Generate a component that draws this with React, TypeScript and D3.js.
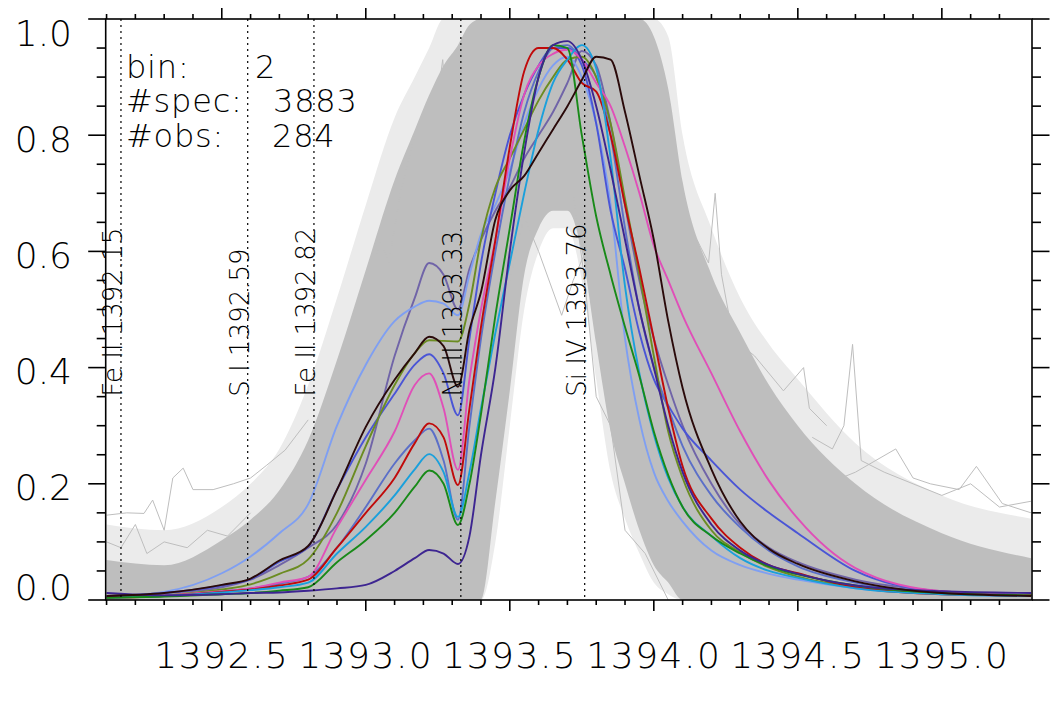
import * as d3 from 'd3';
import * as React from 'react';

// wavelength grid (Angstrom) the profiles are read on
const wavelengths = [
  1392.10, 1392.30, 1392.50, 1392.60, 1392.70, 1392.80, 1392.90, 1393.00, 1393.10, 1393.17,
  1393.22, 1393.27, 1393.32, 1393.36, 1393.40, 1393.45, 1393.50, 1393.55, 1393.60, 1393.65,
  1393.70, 1393.75, 1393.80, 1393.85, 1393.90, 1393.95, 1394.00, 1394.05, 1394.10, 1394.20,
  1394.30, 1394.40, 1394.50, 1394.70, 1395.00, 1395.31,
];

// envelope of the 3883 grey spectra (dense core and the sparse fringe around it)
const grayUpper = [0.069, 0.060, 0.103, 0.138, 0.189, 0.275, 0.413, 0.568, 0.723, 0.809, 0.869, 0.92, 0.955, 0.99, 1, 1, 1, 1, 1, 1, 1, 1, 1, 1, 1, 1, 0.97, 0.88, 0.72, 0.56, 0.46, 0.37, 0.30, 0.20, 0.115, 0.072];
const grayLower = [0, 0, 0, 0, 0, 0, 0, 0, 0, 0, 0, 0, 0, 0, 0, 0.17, 0.36, 0.56, 0.64, 0.67, 0.67, 0.60, 0.44, 0.29, 0.20, 0.12, 0.06, 0.03, 0, 0, 0, 0, 0, 0, 0, 0];
const fringeUpper = [0.13, 0.12, 0.16, 0.20, 0.26, 0.37, 0.52, 0.68, 0.83, 0.90, 0.95, 1, 1, 1, 1, 1, 1, 1, 1, 1, 1, 1, 1, 1, 1, 1, 1, 0.97, 0.80, 0.64, 0.52, 0.44, 0.38, 0.27, 0.18, 0.14];
const fringeLower = [0, 0, 0, 0, 0, 0, 0, 0, 0, 0, 0, 0, 0, 0, 0, 0.10, 0.30, 0.50, 0.60, 0.64, 0.64, 0.55, 0.38, 0.22, 0.14, 0.08, 0.03, 0.01, 0, 0, 0, 0, 0, 0, 0, 0];

// a few stray grey spectra standing out of the envelope: [wavelength, intensity]
const strayLines: [number, number][][] = [
  [[1393.18, 0.62], [1393.23, 0.79], [1393.267, 0.93], [1393.29, 0.79], [1393.32, 0.85], [1393.36, 0.95]],
  [[1392.10, 0.146], [1392.17, 0.15], [1392.23, 0.149], [1392.26, 0.172], [1392.30, 0.12], [1392.33, 0.21], [1392.366, 0.227], [1392.40, 0.19], [1392.47, 0.19], [1392.54, 0.20], [1392.60, 0.21], [1392.656, 0.232], [1392.72, 0.258], [1392.80, 0.31]],
  [[1392.10, 0.10], [1392.15, 0.09], [1392.20, 0.13], [1392.24, 0.08], [1392.30, 0.10], [1392.38, 0.09], [1392.45, 0.12], [1392.52, 0.11], [1392.60, 0.15]],
  [[1392.95, 0.40], [1393.00, 0.50], [1393.05, 0.62], [1393.08, 0.58], [1393.12, 0.70], [1393.17, 0.80]],
  [[1394.55, 0.28], [1394.62, 0.26], [1394.66, 0.30], [1394.69, 0.44], [1394.72, 0.24], [1394.80, 0.22], [1394.90, 0.20], [1395.00, 0.18], [1395.10, 0.20], [1395.20, 0.16], [1395.31, 0.17]],
  [[1394.60, 0.20], [1394.70, 0.22], [1394.84, 0.26], [1394.90, 0.21], [1394.96, 0.20], [1395.06, 0.19], [1395.12, 0.23], [1395.21, 0.166], [1395.31, 0.15]],
  [[1394.15, 0.62], [1394.19, 0.58], [1394.213, 0.70], [1394.235, 0.56], [1394.276, 0.45], [1394.35, 0.42], [1394.45, 0.36], [1394.52, 0.40], [1394.54, 0.33], [1394.60, 0.30]],
  [[1393.50, 0.55], [1393.55, 0.66], [1393.60, 0.60], [1393.68, 0.49], [1393.72, 0.55], [1393.78, 0.62]],
  [[1393.72, 0.70], [1393.76, 0.55], [1393.80, 0.35], [1393.85, 0.30], [1393.90, 0.12], [1393.97, 0.08], [1394.05, 0.0]],
];

// cluster centroid profiles
const purpleGrey = [0.006, 0.012, 0.022, 0.035, 0.060, 0.090, 0.13, 0.235, 0.42, 0.52, 0.58, 0.56, 0.50, 0.57, 0.62, 0.67, 0.71, 0.76, 0.80, 0.84, 0.89, 0.945, 0.92, 0.82, 0.68, 0.55, 0.45, 0.37, 0.30, 0.20, 0.13, 0.09, 0.065, 0.035, 0.015, 0.008];
const periwinkle = [0.006, 0.014, 0.046, 0.075, 0.115, 0.165, 0.30, 0.405, 0.48, 0.505, 0.515, 0.51, 0.49, 0.56, 0.63, 0.68, 0.74, 0.82, 0.88, 0.92, 0.935, 0.90, 0.82, 0.68, 0.45, 0.31, 0.22, 0.17, 0.135, 0.085, 0.06, 0.045, 0.035, 0.02, 0.01, 0.007];
const royalBlue = [0.006, 0.012, 0.025, 0.036, 0.066, 0.092, 0.19, 0.28, 0.355, 0.405, 0.423, 0.39, 0.318, 0.45, 0.58, 0.70, 0.80, 0.87, 0.92, 0.95, 0.95, 0.92, 0.82, 0.67, 0.57, 0.46, 0.38, 0.335, 0.295, 0.24, 0.19, 0.15, 0.115, 0.05, 0.014, 0.008];
const slateBlue = [0.005, 0.008, 0.015, 0.020, 0.028, 0.040, 0.090, 0.160, 0.235, 0.275, 0.295, 0.240, 0.138, 0.30, 0.45, 0.60, 0.73, 0.84, 0.91, 0.95, 0.955, 0.93, 0.90, 0.80, 0.64, 0.50, 0.40, 0.33, 0.265, 0.18, 0.125, 0.085, 0.058, 0.03, 0.013, 0.008];
const olive = [0.004, 0.008, 0.018, 0.027, 0.045, 0.070, 0.150, 0.265, 0.370, 0.425, 0.447, 0.446, 0.445, 0.51, 0.62, 0.71, 0.76, 0.81, 0.86, 0.90, 0.93, 0.935, 0.90, 0.82, 0.69, 0.56, 0.42, 0.29, 0.21, 0.12, 0.082, 0.056, 0.04, 0.022, 0.012, 0.008];
const pink = [0.005, 0.008, 0.015, 0.020, 0.030, 0.040, 0.125, 0.207, 0.290, 0.370, 0.390, 0.330, 0.224, 0.38, 0.50, 0.62, 0.76, 0.87, 0.92, 0.94, 0.947, 0.93, 0.89, 0.85, 0.78, 0.70, 0.61, 0.55, 0.49, 0.39, 0.29, 0.205, 0.14, 0.055, 0.015, 0.008];
const red = [0.004, 0.007, 0.014, 0.018, 0.025, 0.035, 0.090, 0.150, 0.210, 0.270, 0.304, 0.280, 0.198, 0.33, 0.47, 0.62, 0.78, 0.91, 0.95, 0.95, 0.93, 0.89, 0.875, 0.80, 0.68, 0.57, 0.45, 0.33, 0.23, 0.14, 0.09, 0.06, 0.046, 0.022, 0.01, 0.008];
const cyan = [0.004, 0.007, 0.013, 0.017, 0.022, 0.030, 0.080, 0.126, 0.180, 0.225, 0.251, 0.220, 0.143, 0.22, 0.33, 0.46, 0.58, 0.70, 0.81, 0.89, 0.93, 0.955, 0.915, 0.76, 0.54, 0.39, 0.285, 0.21, 0.16, 0.11, 0.072, 0.05, 0.038, 0.02, 0.01, 0.007];
const green = [0.004, 0.006, 0.010, 0.012, 0.016, 0.022, 0.065, 0.103, 0.150, 0.195, 0.223, 0.200, 0.129, 0.20, 0.32, 0.49, 0.64, 0.79, 0.90, 0.955, 0.95, 0.80, 0.66, 0.56, 0.47, 0.385, 0.29, 0.215, 0.16, 0.11, 0.08, 0.058, 0.044, 0.025, 0.012, 0.008];
const indigo = [0.012, 0.008, 0.010, 0.012, 0.013, 0.016, 0.020, 0.026, 0.050, 0.072, 0.086, 0.080, 0.062, 0.11, 0.25, 0.40, 0.60, 0.77, 0.90, 0.955, 0.962, 0.93, 0.85, 0.74, 0.62, 0.50, 0.40, 0.30, 0.22, 0.13, 0.085, 0.06, 0.045, 0.025, 0.015, 0.012];
const black = [0.007, 0.012, 0.026, 0.037, 0.068, 0.093, 0.19, 0.298, 0.379, 0.425, 0.453, 0.437, 0.367, 0.465, 0.53, 0.655, 0.705, 0.73, 0.77, 0.81, 0.85, 0.895, 0.935, 0.93, 0.84, 0.73, 0.62, 0.48, 0.365, 0.225, 0.135, 0.088, 0.062, 0.032, 0.012, 0.007];

const profiles = [purpleGrey, periwinkle, royalBlue, slateBlue, olive, pink, red, cyan, green, indigo, black];
const profileColors = ['#7064a8', '#7f9ff2', '#4a55d6', '#5b6fc8', '#6b8c22', '#e04fb8', '#c00a0a', '#1aa0dc', '#188a18', '#3d2591', '#2a0a0a'];

// reference lines
const lineIds = ['Fe II 1392.15', 'S I 1392.59', 'Fe II 1392.82', 'Ni II 1393.33', 'Si IV 1393.76'];
const lineWaves = [1392.15, 1392.59, 1392.82, 1393.33, 1393.76];

const infoLabels = ['bin:', '#spec:', '#obs:'];
const infoValues = ['2', '3883', '284'];

const xDomain: [number, number] = [1392.097, 1395.313];
const xMajorTicks = [1392.5, 1393.0, 1393.5, 1394.0, 1394.5, 1395.0];
const yMajorTicks = [0, 0.2, 0.4, 0.6, 0.8, 1.0];

const W = 1062;
const H = 707;
const plot = { left: 105.7, right: 1032, top: 19, bottom: 600 };
const font = '"DejaVu Sans", sans-serif';

export default function App() {
  const x = d3.scaleLinear().domain(xDomain).range([plot.left, plot.right]);
  const y = d3.scaleLinear().domain([0, 1]).range([plot.bottom, plot.top]);

  const xMinor = d3.range(1, 33).map((i) => Math.round((1392.0 + i * 0.1) * 10) / 10)
    .filter((t) => t >= xDomain[0] && t <= xDomain[1]);
  const yMinor = d3.range(0, 21).map((i) => i * 0.05);

  const band = (lo: number[], hi: number[]) =>
    d3.area<number>()
      .x((_, i) => x(wavelengths[i]))
      .y0((_, i) => y(lo[i]))
      .y1((_, i) => y(hi[i]))
      .curve(d3.curveMonotoneX)(wavelengths) || '';

  const profileLine = d3.line<number>()
    .x((_, i) => x(wavelengths[i]))
    .y((v) => y(v))
    .curve(d3.curveMonotoneX);

  const strayLine = d3.line<[number, number]>()
    .x((d) => x(d[0]))
    .y((d) => y(d[1]));

  const axisStroke = { stroke: '#000', strokeWidth: 1.6 };

  return (
    <svg width={W} height={H} style={{ position: 'absolute', left: 0, top: 0, background: '#fff' }}>
      <defs>
        <clipPath id="plotClip">
          <rect x={plot.left} y={plot.top} width={plot.right - plot.left} height={plot.bottom - plot.top} />
        </clipPath>
      </defs>

      <g clipPath="url(#plotClip)">
        <path d={band(fringeLower, fringeUpper)} fill="#ebebeb" />
        <path d={band(grayLower, grayUpper)} fill="#bebebe" />
        {strayLines.map((s, i) => (
          <path key={i} d={strayLine(s) || ''} fill="none" stroke="#bebebe" strokeWidth={1} />
        ))}
        {profiles.map((p, i) => (
          <path key={i} d={profileLine(p) || ''} fill="none" stroke={profileColors[i]} strokeWidth={1.9} />
        ))}
      </g>

      {lineWaves.map((w, i) => (
        <g key={i}>
          <line x1={x(w)} x2={x(w)} y1={plot.top} y2={plot.bottom} stroke="#000" strokeWidth={1.2} strokeDasharray="2 4" />
          <text transform={`translate(${x(w) + 1},${y(0.35)}) rotate(-90)`} fontFamily={font} fontWeight={200} fontSize={26} fill="#000">
            {lineIds[i]}
          </text>
        </g>
      ))}

      {/* frame */}
      <rect x={plot.left} y={plot.top} width={plot.right - plot.left} height={plot.bottom - plot.top} fill="none" {...axisStroke} />

      {/* x ticks, bottom and top */}
      {xMinor.map((t) => {
        const major = xMajorTicks.some((m) => Math.abs(m - t) < 1e-6);
        const len = major ? 11 : 5;
        return (
          <g key={t}>
            <line x1={x(t)} x2={x(t)} y1={plot.bottom} y2={plot.bottom + len} {...axisStroke} />
            <line x1={x(t)} x2={x(t)} y1={plot.top} y2={plot.top - len} {...axisStroke} />
          </g>
        );
      })}

      {/* y ticks, left and right */}
      {yMinor.map((t, i) => {
        const len = i % 4 === 0 ? 17.5 : 9;
        return (
          <g key={i}>
            <line x1={plot.left} x2={plot.left - len} y1={y(t)} y2={y(t)} {...axisStroke} />
            <line x1={plot.right} x2={plot.right + len} y1={y(t)} y2={y(t)} {...axisStroke} />
          </g>
        );
      })}

      {xMajorTicks.map((t) => (
        <text key={t} x={x(t)} y={668} textAnchor="middle" fontFamily={font} fontWeight={200} fontSize={36} letterSpacing={1.5} fill="#000">
          {t.toFixed(1)}
        </text>
      ))}

      {yMajorTicks.map((t) => {
        const centre = Math.min(Math.max(y(t) + 3, plot.top + 13.5), plot.bottom - 13.5);
        return (
          <text key={t} x={72} y={centre + 13.5} textAnchor="end" fontFamily={font} fontWeight={200} fontSize={36} fill="#000">
            {t.toFixed(1)}
          </text>
        );
      })}

      {infoLabels.map((lab, i) => (
        <g key={lab} fontFamily={font} fontWeight={200} fontSize={32} letterSpacing={0.8} fill="#000">
          <text x={126} y={77.7 + i * 34.5}>{lab}</text>
          <text x={[255, 273, 272][i]} y={77.7 + i * 34.5}>{infoValues[i]}</text>
        </g>
      ))}
    </svg>
  );
}
